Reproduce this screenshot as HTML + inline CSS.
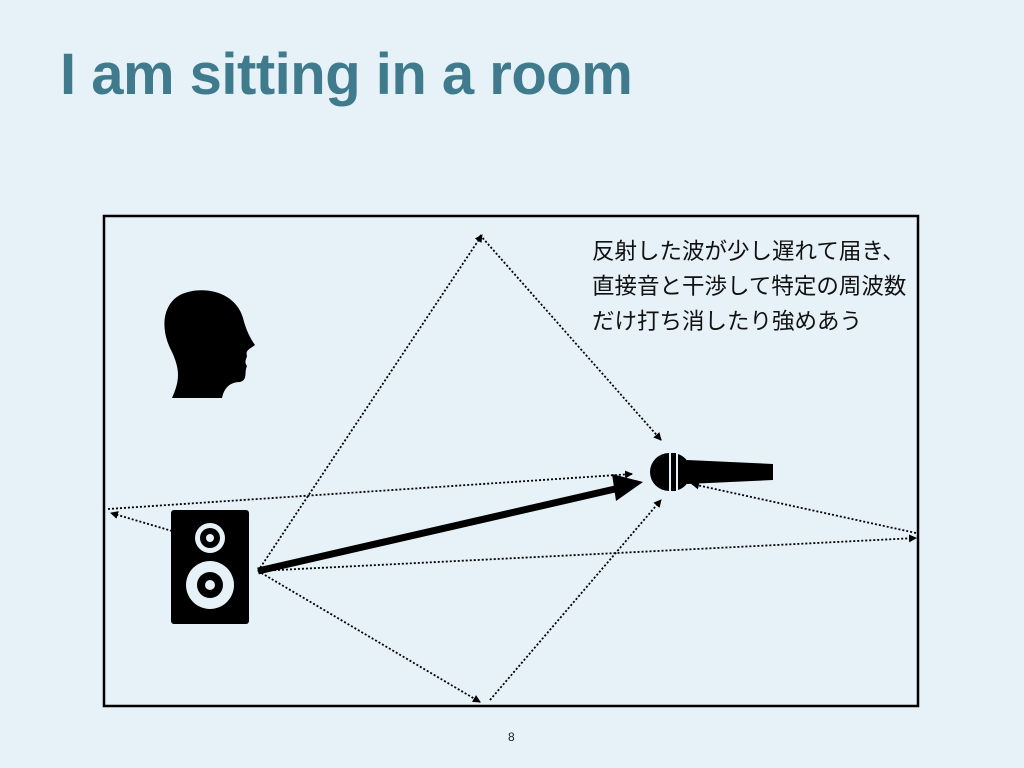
<!DOCTYPE html>
<html><head><meta charset="utf-8"><style>
html,body{margin:0;padding:0;}
body{width:1024px;height:768px;background:#e6f1f8;position:relative;overflow:hidden;font-family:"Liberation Sans","Noto Sans CJK JP",sans-serif;}
h1{position:absolute;left:60px;top:40px;margin:0;font-size:58px;font-weight:bold;color:#3f7b8d;letter-spacing:-0.5px;line-height:70px;}
.jp{position:absolute;left:592px;top:233px;font-size:22.5px;line-height:35px;color:#111;font-family:"Noto Sans CJK JP",sans-serif;white-space:nowrap;letter-spacing:0px;}
.pn{position:absolute;left:508px;top:730px;font-size:12px;color:#222;}
</style></head><body>
<h1>I am sitting in a room</h1>
<svg width="1024" height="768" style="position:absolute;left:0;top:0">
<defs>
<marker id="a" markerWidth="8" markerHeight="8" refX="7" refY="4" orient="auto" markerUnits="userSpaceOnUse"><path d="M0,0 L8,4 L0,8 z" fill="#000"/></marker>
</defs>
<rect x="104" y="216" width="814" height="490" fill="none" stroke="#000" stroke-width="2.5"/>
<g stroke="#000" stroke-width="1.8" stroke-dasharray="2,2" fill="none" marker-end="url(#a)">
<line x1="258" y1="571" x2="482" y2="235"/>
<line x1="480" y1="235" x2="661" y2="440"/>
<line x1="258" y1="571" x2="480" y2="702"/>
<line x1="490" y1="700" x2="661" y2="500"/>
<line x1="258" y1="571" x2="916" y2="538"/>
<line x1="916" y1="533" x2="692" y2="484"/>
<line x1="172" y1="531" x2="111" y2="513"/>
<line x1="108" y1="509" x2="632" y2="474"/>
</g>
<line x1="258" y1="571" x2="615" y2="489" stroke="#000" stroke-width="7"/>
<path d="M643,482 L612,474 L616,501 z" fill="#000"/>
<rect x="171" y="510" width="78" height="114" rx="3" fill="#000"/>
<circle cx="210" cy="538" r="15" fill="#e6f1f8"/><circle cx="210" cy="538" r="10" fill="#000"/><circle cx="210" cy="538" r="4" fill="#e6f1f8"/>
<circle cx="210" cy="585" r="24" fill="#e6f1f8"/><circle cx="210" cy="585" r="13" fill="#000"/><circle cx="210" cy="585" r="5" fill="#e6f1f8"/>
<path d="M172,398 C180,380 180,370 172,352 C160,330 162,305 180,295 C200,285 235,290 243,318 C246,330 250,338 255,345 C250,349 245,350 247,356 C246,360 244,362 247,366 C244,372 248,380 240,382 C230,382 224,388 222,398 Z" fill="#000"/>
<path d="M669,453 A19,19 0 0 0 669,491 Z" fill="#000"/>
<rect x="671" y="453" width="5" height="38" fill="#000"/>
<path d="M678,454 A19,19 0 0 1 678,490 Z" fill="#000"/>
<path d="M687,460 L773,464 L773,480 L687,484 Z" fill="#000"/>
</svg>
<div class="jp">反射した波が少し遅れて届き、<br>直接音と干渉して特定の周波数<br>だけ打ち消したり強めあう</div>
<div class="pn">8</div>
</body></html>
